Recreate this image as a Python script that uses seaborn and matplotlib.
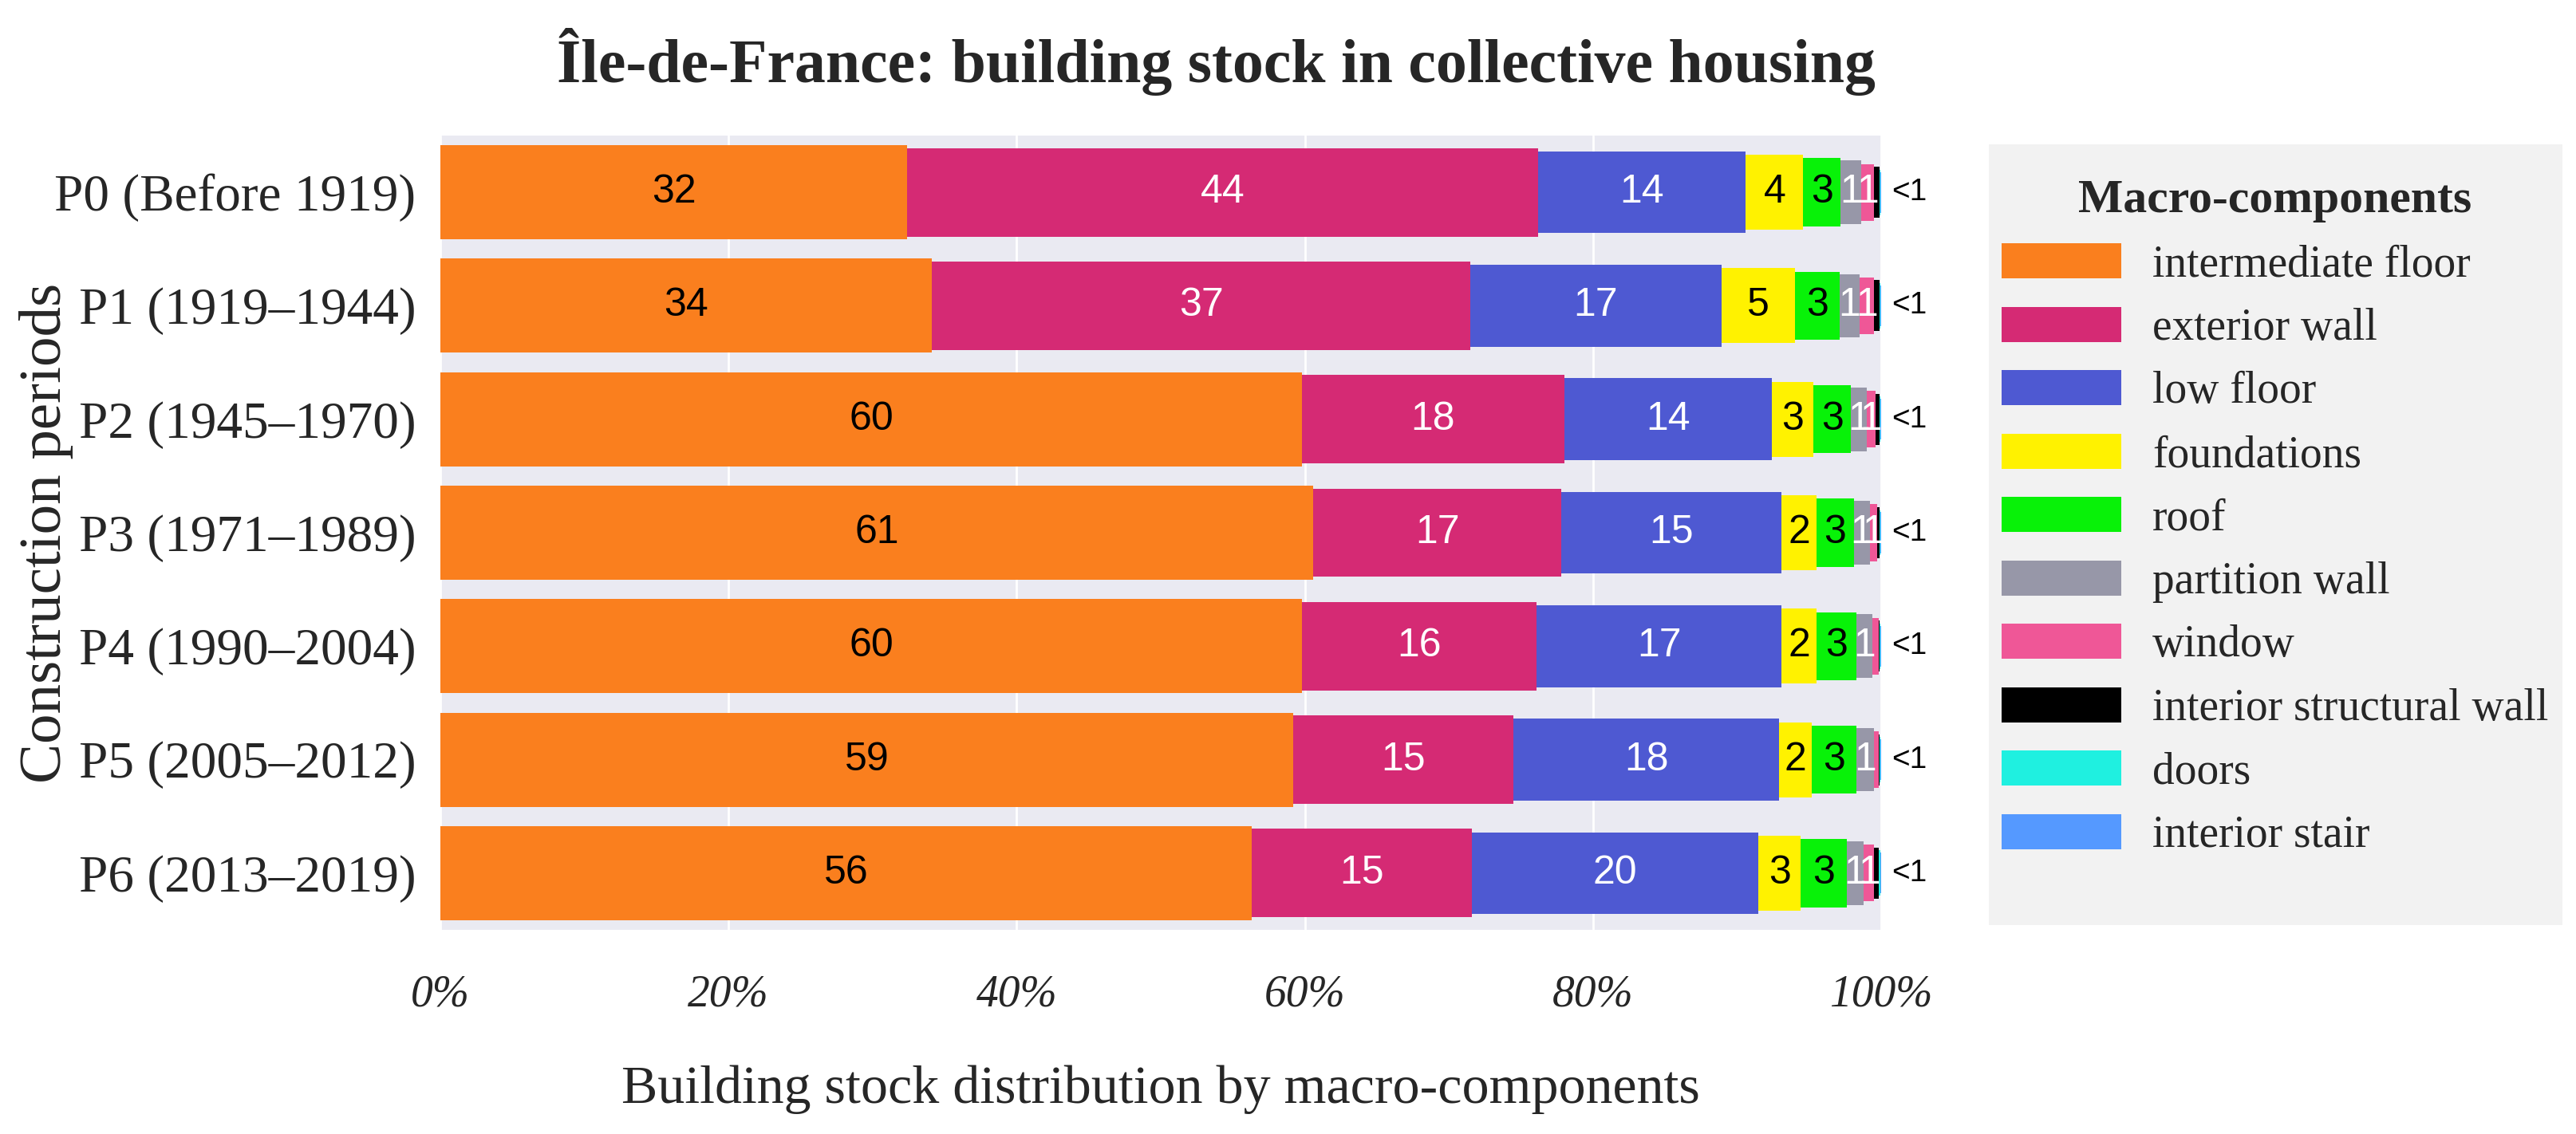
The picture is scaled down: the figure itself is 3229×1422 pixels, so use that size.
import numpy as np
import pandas as pd
import matplotlib
matplotlib.use("Agg")
import matplotlib.pyplot as plt
import seaborn as sns
from matplotlib.patches import Patch, Rectangle

# ---------------- data ----------------
periods = ["P0 (Before 1919)", "P1 (1919–1944)", "P2 (1945–1970)", "P3 (1971–1989)",
           "P4 (1990–2004)", "P5 (2005–2012)", "P6 (2013–2019)"]
components = ["intermediate floor", "exterior wall", "low floor", "foundations", "roof",
              "partition wall", "window", "interior structural wall", "doors", "interior stair"]

intermediate_floor = [32.4, 34.1, 59.8, 60.6, 59.8, 59.2, 56.3]
exterior_wall = [43.8, 37.4, 18.2, 17.2, 16.3, 15.3, 15.3]
low_floor = [14.4, 17.4, 14.4, 15.3, 17.0, 18.4, 19.9]
foundations = [4.0, 5.1, 2.9, 2.4, 2.4, 2.3, 2.9]
roof = [2.6, 3.1, 2.6, 2.6, 2.8, 3.1, 3.2]
partition_wall = [1.4, 1.4, 1.1, 1.1, 1.1, 1.2, 1.2]
window = [0.9, 1.0, 0.6, 0.55, 0.45, 0.35, 0.7]
interior_structural_wall = [0.4, 0.4, 0.3, 0.15, 0.05, 0.05, 0.35]
doors = [0.05, 0.05, 0.05, 0.05, 0.05, 0.05, 0.1]
interior_stair = [0.05, 0.05, 0.05, 0.05, 0.05, 0.05, 0.05]

small_label = "<1"
xtick_values = [0, 20, 40, 60, 80, 100]
xtick_labels = ["0%", "20%", "40%", "60%", "80%", "100%"]

# ---------------- style ----------------
colors = ["#FA7F1E", "#D52A74", "#4E59D2", "#FFF200", "#08F208",
          "#9797A8", "#EF5797", "#000000", "#1FF0E0", "#5599FF"]
text_colors = ["black", "white", "white", "black", "black", "white", "white", "white", "black", "black"]
bar_heights = [0.83, 0.78, 0.72, 0.66, 0.60, 0.56, 0.50, 0.45, 0.40, 0.36]

sns.set_theme(style="darkgrid")
plt.rcParams["font.family"] = ["Liberation Serif", "DejaVu Serif"]
SANS = ["Liberation Sans", "DejaVu Sans"]

values = [intermediate_floor, exterior_wall, low_floor, foundations, roof,
          partition_wall, window, interior_structural_wall, doors, interior_stair]
df = pd.DataFrame({c: v for c, v in zip(components, values)})
df.insert(0, "period", periods)
cum = df[components].cumsum(axis=1)
cum.insert(0, "period", periods)

W, H = 3230, 1422
fig = plt.figure(figsize=(W / 200, H / 200), dpi=200)
ax = fig.add_axes([552 / W, 1 - 1166 / H, (2358 - 552) / W, (1166 - 170) / H])

# overlay cumulative bars, last component first
for i in reversed(range(len(components))):
    sns.barplot(data=cum, x=components[i], y="period", orient="h", color=colors[i],
                width=bar_heights[i], saturation=1, errorbar=None, linewidth=0, ax=ax)

# value labels
for j, p in enumerate(periods):
    left = 0.0
    for i, c in enumerate(components):
        v = df.loc[j, c]
        n = int(np.floor(v + 0.5))
        if v >= 0.5 and n >= 1:
            ax.text(left + v / 2, j, str(n), ha="center", va="center",
                    color=text_colors[i], fontsize=18, family=SANS)
        left += v
    ax.text(100.7, j, small_label, ha="left", va="center", color="black",
            fontsize=14, family=SANS, clip_on=False)

ax.set_xlim(0, 100)
ax.set_xticks(xtick_values)
ax.set_xticklabels(xtick_labels, fontstyle="italic", fontsize=20)
ax.tick_params(axis="x", pad=20, length=0)
ax.tick_params(axis="y", labelsize=23.5, pad=11, length=0)
ax.set_xlabel("")
ax.set_ylabel("")
for s in ax.spines.values():
    s.set_visible(False)

fig.text(1524 / W, 1 - 78 / H, "Île-de-France: building stock in collective housing",
         ha="center", va="center", fontsize=28, fontweight="bold")
fig.text(1455 / W, 1 - 1366 / H, "Building stock distribution by macro-components",
         ha="center", va="center", fontsize=24.5)
fig.text(58 / W, 1 - 668 / H, "Construction periods", ha="center", va="center",
         rotation=90, fontsize=27)

# legend
fig.add_artist(Rectangle((2493 / W, 1 - 1160 / H), (3212 - 2493) / W, (1160 - 181) / H,
                         transform=fig.transFigure, facecolor="#F2F2F2",
                         edgecolor="none", zorder=0))
handles = [Patch(facecolor=c, edgecolor="none") for c in colors]
leg = fig.legend(handles, components, loc="upper left",
                 bbox_to_anchor=(2509 / W, 1 - 225 / H), frameon=False, fontsize=20,
                 title="Macro-components",
                 title_fontproperties={"weight": "bold", "size": 21.5},
                 handlelength=2.7, handleheight=0.85, handletextpad=0.7,
                 labelspacing=0.47, borderpad=0, borderaxespad=0)

fig.savefig("out.png", dpi=200)
